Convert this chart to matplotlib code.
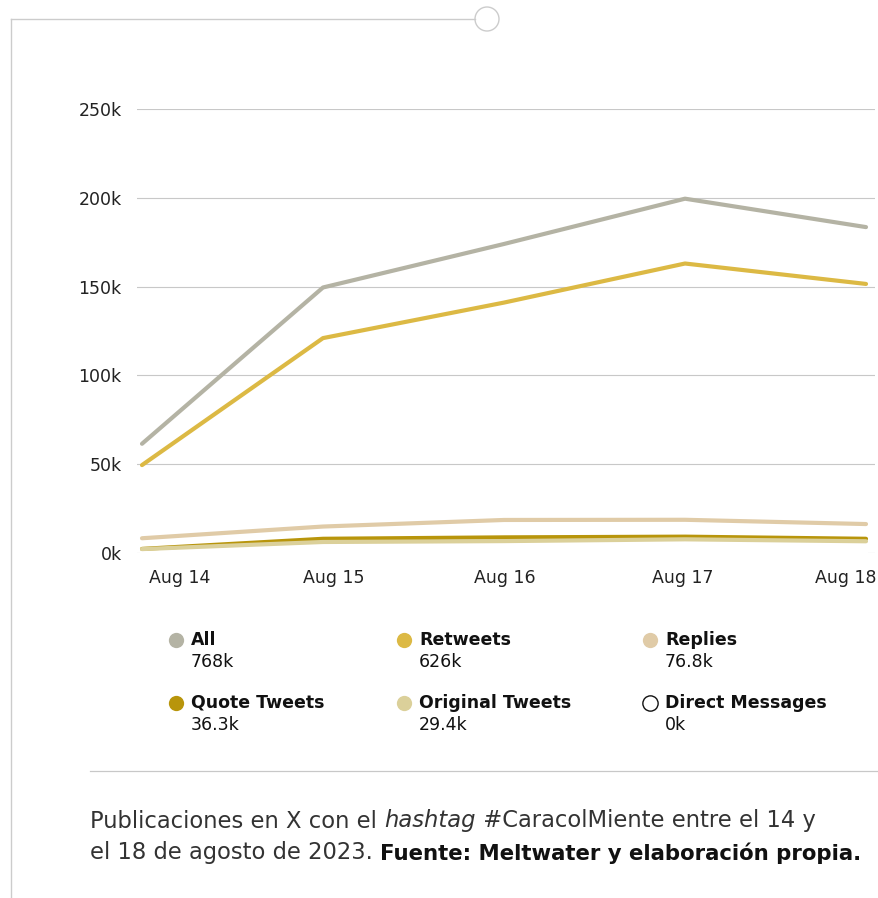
import matplotlib.pyplot as plt
from matplotlib.patches import Circle
from matplotlib.lines import Line2D

plt.rcParams['font.family'] = ['DejaVu Sans']

days = ["Aug 14", "Aug 15", "Aug 16", "Aug 17", "Aug 18"]
all_posts = [61500, 149500, 174000, 199500, 183500]
retweets = [49500, 121000, 141000, 163000, 151500]
replies = [8300, 14900, 18600, 18700, 16300]
quote_tweets = [2300, 8000, 8800, 9200, 8000]
original_tweets = [2200, 6200, 6700, 7700, 6600]
direct_messages = [0, 0, 0, 0, 0]

series_names = ["All", "Retweets", "Replies", "Quote Tweets", "Original Tweets", "Direct Messages"]
series_totals = ["768k", "626k", "76.8k", "36.3k", "29.4k", "0k"]
colors = ["#b4b3a4", "#dcb944", "#e0cba7", "#b8950b", "#dbd09a", "#ffffff"]

W, H = 879, 898
fig = plt.figure(figsize=(W / 100, H / 100), dpi=100)

def px(x, y):
    return x / W, 1 - y / H

ax = fig.add_axes([137 / W, 1 - 553 / H, (875 - 137) / W, (553 - 109) / H])
x = range(len(days))
series = [all_posts, retweets, replies, quote_tweets, original_tweets]
for vals, c in zip(series, colors[:5]):
    ax.plot(x, vals, color=c, lw=3.0, solid_capstyle='round', solid_joinstyle='round', zorder=2)
ax.plot(x, direct_messages, color=colors[5], lw=3.0, zorder=1)

ax.set_xlim(-5 / 181, 4 + 9 / 181)
ax.set_ylim(0, 250000)
ax.set_yticks([0, 50000, 100000, 150000, 200000, 250000])
ax.set_yticklabels(["0k", "50k", "100k", "150k", "200k", "250k"])
ax.grid(axis='y', color='#c8c8c8', lw=0.8)
ax.set_axisbelow(True)
for s in ax.spines.values():
    s.set_visible(False)
ax.tick_params(axis='y', length=0, pad=11, labelsize=12.5, labelcolor='#222222')
ax.set_xticks([])

# date labels (edges kept inside the plot)
label_pos = [0.21, 1.06, 2.005, 2.99, 3.89]
for p, d in zip(label_pos, days):
    ax.text(p, -0.056, d, transform=ax.get_xaxis_transform(), ha='center', va='center',
            fontsize=12.5, color='#222222')

# legend
col_x = [176, 404, 650]
row_y = [640, 703]
for i, (name, tot, c) in enumerate(zip(series_names, series_totals, colors)):
    cx = col_x[i % 3]
    ry = row_y[i // 3]
    fig.add_artist(Line2D([cx / W], [1 - ry / H], marker='o', ms=11, color=c,
                          markeredgecolor='#111111' if c == '#ffffff' else c,
                          markeredgewidth=1.0 if c == '#ffffff' else 0))
    fig.text(*px(cx + 15, ry), name, fontsize=12.5, fontweight='bold', color='#111111', va='center')
    fig.text(*px(cx + 15, ry + 22), tot, fontsize=12.5, color='#111111', va='center')

# separator and frame
fig.add_artist(Line2D([90 / W, 878 / W], [1 - 771 / H] * 2, color='#c8c8c8', lw=0.9))
fig.add_artist(Line2D([11 / W, 11 / W], [1 - 19 / H, 0], color='#cccccc', lw=1.0))
fig.add_artist(Line2D([11 / W, 475 / W], [1 - 19 / H] * 2, color='#cccccc', lw=1.0))
fig.add_artist(Circle((487, H - 19), 12, transform=None, fill=False, edgecolor='#cccccc', lw=1.0))

# caption with mixed styles
fig.canvas.draw()
renderer = fig.canvas.get_renderer()

def run(parts, x0, y0):
    xpos = x0
    for txt, kw in parts:
        opts = dict(fontsize=16.3, color='#333333', va='center')
        opts.update(kw)
        t = fig.text(xpos / W, 1 - y0 / H, txt, **opts)
        bb = t.get_window_extent(renderer)
        xpos += bb.width

run([("Publicaciones en X con el ", {}), ("hashtag", {'style': 'italic'}),
     (" #CaracolMiente entre el 14 y", {})], 90, 821)
run([("el 18 de agosto de 2023. ", {}),
     ("Fuente: Meltwater y elaboración propia.",
      {'fontweight': 'bold', 'color': '#111111', 'fontsize': 15.3})], 90, 853)

fig.savefig("out.png", dpi=100)
